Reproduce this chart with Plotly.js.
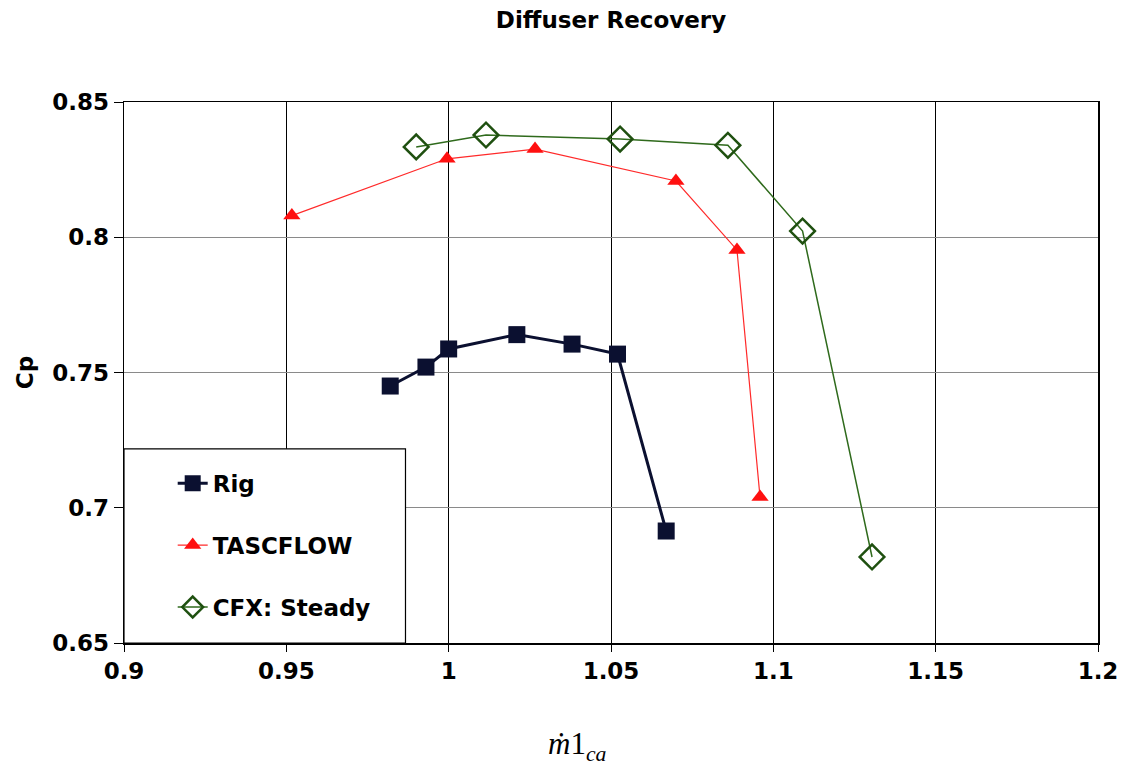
<!DOCTYPE html>
<html><head><meta charset="utf-8">
<script src="https://cdn.plot.ly/plotly-3.0.1.min.js"></script>
<style>html,body{margin:0;padding:0;background:#fff}#chart{width:1123px;height:767px}</style>
</head><body><div id="chart"></div>
<script>
const rigX = [0.982, 0.993, 1.000, 1.021, 1.038, 1.052, 1.067];
const rigY = [0.745, 0.752, 0.7587, 0.764, 0.7605, 0.7568, 0.6914];
const tascX = [0.9517, 0.9995, 1.0266, 1.070, 1.0888, 1.0959];
const tascY = [0.808, 0.829, 0.8326, 0.8208, 0.7953, 0.704];
const cfxX = [0.990, 1.0115, 1.0528, 1.086, 1.109, 1.1304];
const cfxY = [0.8334, 0.8378, 0.8363, 0.834, 0.8023, 0.6818];
const xTicks = [0.9, 0.95, 1, 1.05, 1.1, 1.15, 1.2];
const xTickText = ['0.9', '0.95', '1', '1.05', '1.1', '1.15', '1.2'];
const yTicks = [0.65, 0.7, 0.75, 0.8, 0.85];
const yTickText = ['0.65', '0.7', '0.75', '0.8', '0.85'];

const F = 'DejaVu Sans, Arial, sans-serif';
const traces = [
  {x: rigX, y: rigY, name: 'Rig', mode: 'lines+markers', legendgroup: 'a',
   line: {color: '#0b1030', width: 3}, marker: {symbol: 'square', size: 17, color: '#0b1030'}},
  {x: tascX, y: tascY, name: 'TASCFLOW', mode: 'lines+markers', legendgroup: 'b',
   line: {color: '#ff2a2a', width: 1.2}, marker: {symbol: 'triangle-up', size: 15, color: '#ff1010'}},
  {x: cfxX, y: cfxY, name: 'CFX: Steady', mode: 'lines+markers', legendgroup: 'c',
   line: {color: '#2f6a1c', width: 1.5},
   marker: {symbol: 'diamond-open', size: 19, color: '#1f5010', line: {width: 2.5, color: '#1f5010'}}}
];
const layout = {
  width: 1123, height: 767,
  margin: {l: 124, r: 25, t: 102, b: 124},
  paper_bgcolor: '#fff', plot_bgcolor: '#fff',
  title: {text: 'Diffuser Recovery', font: {family: F, size: 23, color: '#000', weight: 'bold'},
          x: 0.5, xref: 'paper', xanchor: 'center', y: 0.974, yanchor: 'middle'},
  xaxis: {range: [0.9, 1.2], tickvals: xTicks, ticktext: xTickText,
          showgrid: true, gridcolor: '#000', gridwidth: 1, zeroline: false,
          showline: true, linecolor: '#000', linewidth: 1.5, mirror: true,
          ticks: 'outside', ticklen: 7, tickcolor: '#000',
          tickfont: {family: F, size: 23, color: '#000', weight: 'bold'}},
  yaxis: {range: [0.65, 0.85], tickvals: yTicks, ticktext: yTickText,
          showgrid: true, gridcolor: '#8a8a8a', gridwidth: 1, zeroline: false,
          showline: true, linecolor: '#000', linewidth: 1.5, mirror: true,
          ticks: 'outside', ticklen: 9, tickcolor: '#000',
          tickfont: {family: F, size: 23, color: '#000', weight: 'bold'},
          title: {text: 'Cp', font: {family: F, size: 23, color: '#000', weight: 'bold'}, standoff: 12}},
  showlegend: true,
  legend: {x: 0.05, y: 0.335, xanchor: 'left', yanchor: 'top', xref: 'paper', yref: 'paper',
           bgcolor: 'rgba(0,0,0,0)', borderwidth: 0, traceorder: 'grouped', tracegroupgap: 29,
           font: {family: F, size: 23, color: '#000', weight: 'bold'}},
  annotations: [{text: '<i>ṁ</i>1<sub><i>ca</i></sub>', xref: 'paper', yref: 'paper',
                 x: 0.466, y: -0.19, xanchor: 'center', yanchor: 'middle', showarrow: false,
                 font: {family: 'Liberation Serif, Times New Roman, serif', size: 31, color: '#000'}}],
  shapes: [{type: 'rect', xref: 'x', yref: 'y', x0: 0.9, x1: 0.9867, y0: 0.65, y1: 0.7218,
            fillcolor: '#fff', line: {color: '#000', width: 1.2}, layer: 'above'}]
};
Plotly.newPlot('chart', traces, layout, {displayModeBar: false, staticPlot: true});
</script></body></html>
